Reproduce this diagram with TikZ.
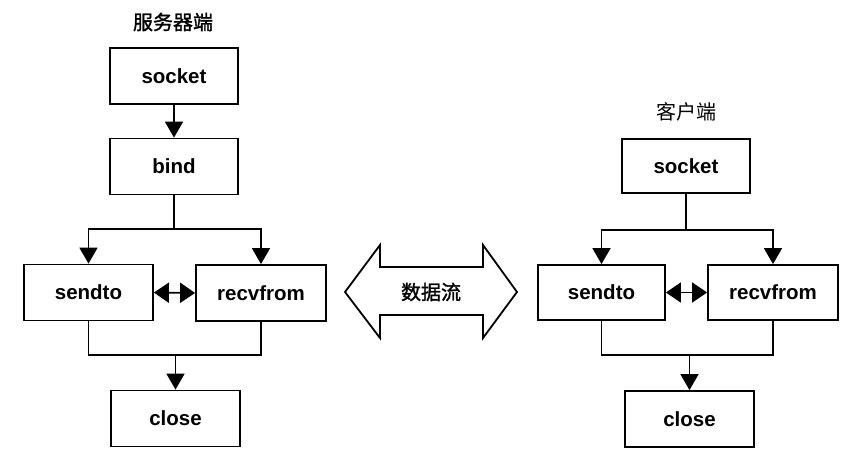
\documentclass[tikz,border=0pt]{standalone}
\usepackage{fontspec}
\setmainfont{Liberation Sans}
\newfontfamily\cjkb[FakeBold=1.5]{Noto Sans CJK SC}
\newfontfamily\cjk{Noto Sans CJK SC}
\usetikzlibrary{arrows.meta}
\begin{document}
\begin{tikzpicture}[x=1pt,y=-1pt,
  fn/.style={draw, line width=1.8pt, inner sep=0pt, minimum width=128pt, minimum height=56pt,
    font=\fontsize{20.5}{24}\selectfont\bfseries},
  ln/.style={line width=1.8pt},
  arr/.style={ln, -{Triangle[length=16pt,width=18pt]}},
  darr/.style={ln, {Triangle[length=15pt,width=20pt]}-{Triangle[length=15pt,width=20pt]}},
  ttl/.style={inner sep=0pt, font=\fontsize{20}{24}\selectfont}]
\useasboundingbox (0,0) rectangle (849,462);

% ---------- server side ----------
\node[ttl] (titleL) at (173,22) {\cjkb 服务器端};
\node[fn] (socketL) at (174,76) {socket};
\node[fn] (bindL) at (174,166.5) {bind};
\node[fn, minimum width=129pt] (sendL) at (88.5,292.5) {sendto};
\node[fn, minimum width=130pt] (recvL) at (261,293) {recvfrom};
\node[fn, minimum width=129pt] (closeL) at (175.5,418.5) {close};

\coordinate (jL) at (174,229);
\coordinate (mL) at (175.5,355);
\draw[arr] (socketL) -- (bindL);
\draw[ln] (bindL.south) -- (jL);
\draw[arr] (jL) -| (sendL.north);
\draw[arr] (jL) -| (recvL.north);
\draw[darr] (sendL.east) -- (recvL.west);
\draw[ln] (sendL.south) |- (mL) -| (recvL.south);
\draw[arr] (mL) -- (closeL.north);

% ---------- data flow ----------
\draw[line width=1.8pt, line join=miter]
  (345,292) -- (380,245) -- (380,267) -- (483,267) -- (483,245) -- (517,292)
  -- (483,338) -- (483,315) -- (380,315) -- (380,338) -- cycle;
\node[ttl] (flow) at (431,292) {\cjkb 数据流};

% ---------- client side ----------
\node[ttl] (titleR) at (686,112) {\cjk 客户端};
\node[fn, minimum height=54pt] (socketR) at (686,166) {socket};
\node[fn, minimum width=127pt, minimum height=55pt] (sendR) at (601.5,292.5) {sendto};
\node[fn, minimum width=130pt, minimum height=55pt] (recvR) at (773,292.5) {recvfrom};
\node[fn, minimum width=129pt] (closeR) at (689.5,419) {close};

\coordinate (jR) at (686,230);
\coordinate (mR) at (689.5,355);
\draw[ln] (socketR.south) -- (jR);
\draw[arr] (jR) -| (sendR.north);
\draw[arr] (jR) -| (recvR.north);
\draw[darr] (sendR.east) -- (recvR.west);
\draw[ln] (sendR.south) |- (mR) -| (recvR.south);
\draw[arr] (mR) -- (closeR.north);
\end{tikzpicture}
\end{document}
